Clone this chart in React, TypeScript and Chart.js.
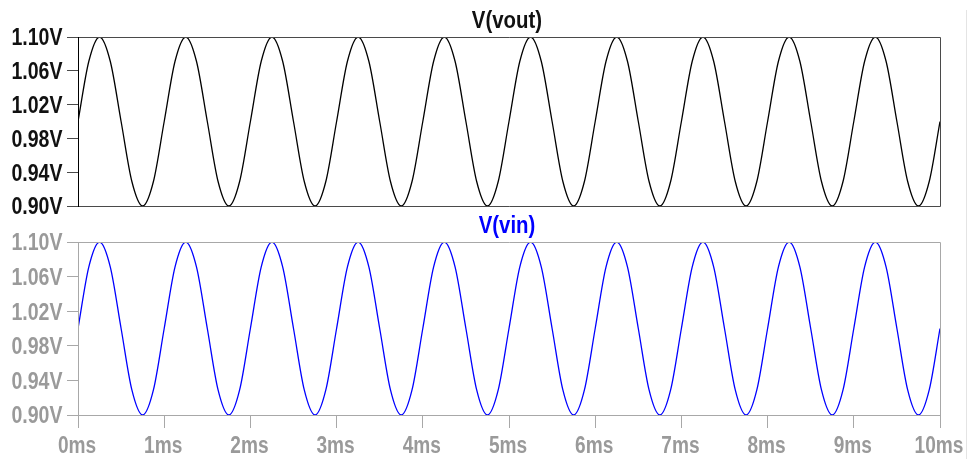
import React, { useEffect, useRef } from 'react';
import { Chart, registerables } from 'chart.js';

Chart.register(...registerables);

// time samples (ms)
const timesMs = [
  0, 0.125, 0.25, 0.375, 0.5, 0.625, 0.75, 0.875,
  1, 1.125, 1.25, 1.375, 1.5, 1.625, 1.75, 1.875,
  2, 2.125, 2.25, 2.375, 2.5, 2.625, 2.75, 2.875,
  3, 3.125, 3.25, 3.375, 3.5, 3.625, 3.75, 3.875,
  4, 4.125, 4.25, 4.375, 4.5, 4.625, 4.75, 4.875,
  5, 5.125, 5.25, 5.375, 5.5, 5.625, 5.75, 5.875,
  6, 6.125, 6.25, 6.375, 6.5, 6.625, 6.75, 6.875,
  7, 7.125, 7.25, 7.375, 7.5, 7.625, 7.75, 7.875,
  8, 8.125, 8.25, 8.375, 8.5, 8.625, 8.75, 8.875,
  9, 9.125, 9.25, 9.375, 9.5, 9.625, 9.75, 9.875,
  10,
];

// V(vout) in volts
const vout = [
  1.0, 1.071, 1.1, 1.071, 1.0, 0.929, 0.9, 0.929,
  1.0, 1.071, 1.1, 1.071, 1.0, 0.929, 0.9, 0.929,
  1.0, 1.071, 1.1, 1.071, 1.0, 0.929, 0.9, 0.929,
  1.0, 1.071, 1.1, 1.071, 1.0, 0.929, 0.9, 0.929,
  1.0, 1.071, 1.1, 1.071, 1.0, 0.929, 0.9, 0.929,
  1.0, 1.071, 1.1, 1.071, 1.0, 0.929, 0.9, 0.929,
  1.0, 1.071, 1.1, 1.071, 1.0, 0.929, 0.9, 0.929,
  1.0, 1.071, 1.1, 1.071, 1.0, 0.929, 0.9, 0.929,
  1.0, 1.071, 1.1, 1.071, 1.0, 0.929, 0.9, 0.929,
  1.0, 1.071, 1.1, 1.071, 1.0, 0.929, 0.9, 0.929,
  1.0,
];

// V(vin) in volts
const vin = [
  1.0, 1.071, 1.1, 1.071, 1.0, 0.929, 0.9, 0.929,
  1.0, 1.071, 1.1, 1.071, 1.0, 0.929, 0.9, 0.929,
  1.0, 1.071, 1.1, 1.071, 1.0, 0.929, 0.9, 0.929,
  1.0, 1.071, 1.1, 1.071, 1.0, 0.929, 0.9, 0.929,
  1.0, 1.071, 1.1, 1.071, 1.0, 0.929, 0.9, 0.929,
  1.0, 1.071, 1.1, 1.071, 1.0, 0.929, 0.9, 0.929,
  1.0, 1.071, 1.1, 1.071, 1.0, 0.929, 0.9, 0.929,
  1.0, 1.071, 1.1, 1.071, 1.0, 0.929, 0.9, 0.929,
  1.0, 1.071, 1.1, 1.071, 1.0, 0.929, 0.9, 0.929,
  1.0, 1.071, 1.1, 1.071, 1.0, 0.929, 0.9, 0.929,
  1.0,
];

const yMin = 0.9;
const yMax = 1.1;
const yStep = 0.04;
const xMin = 0;
const xMax = 10;
const xStep = 1;

const FONT = "'Liberation Sans', Arial, sans-serif";
const SX = 0.85; // horizontal condensing of the bold labels

type PaneCfg = {
  title: string;
  titleColor: string;
  lineColor: string;
  labelColor: string;
  frameColor: string;
  leftColor: string;
  values: number[];
  showX: boolean;
  padTop: number;
  padBottom: number;
};

function drawCondensed(ctx: CanvasRenderingContext2D, text: string, x: number, y: number, align: CanvasTextAlign, sx: number) {
  ctx.save();
  ctx.translate(x, y);
  ctx.scale(sx, 1);
  ctx.textAlign = align;
  ctx.textBaseline = 'alphabetic';
  ctx.fillText(text, 0, 0);
  ctx.restore();
}

function Pane({ cfg, top, height }: { cfg: PaneCfg; top: number; height: number }) {
  const ref = useRef<HTMLCanvasElement | null>(null);
  useEffect(() => {
    if (!ref.current) return;
    const framePlugin = {
      id: 'frame',
      afterDraw(chart: any) {
        const { ctx, chartArea } = chart;
        const { left, right, top: t, bottom } = chartArea;
        ctx.save();
        ctx.lineWidth = 1;
        ctx.strokeStyle = cfg.frameColor;
        ctx.beginPath();
        ctx.moveTo(left, t + 0.5);
        ctx.lineTo(right + 0.5, t + 0.5);
        ctx.lineTo(right + 0.5, bottom + 0.5);
        ctx.lineTo(left, bottom + 0.5);
        ctx.stroke();
        ctx.strokeStyle = cfg.leftColor;
        ctx.beginPath();
        ctx.moveTo(left + 0.5, t);
        ctx.lineTo(left + 0.5, bottom + 1);
        ctx.stroke();

        // title
        ctx.fillStyle = cfg.titleColor;
        ctx.font = `bold 24px ${FONT}`;
        drawCondensed(ctx, cfg.title, (left + right) / 2 - 2, t - 9.5, 'center', SX);

        // y tick labels
        const ys = chart.scales.y;
        ctx.fillStyle = cfg.labelColor;
        ctx.font = `bold 23px ${FONT}`;
        ys.ticks.forEach((tk: any) => {
          const py = ys.getPixelForValue(tk.value);
          drawCondensed(ctx, `${Number(tk.value).toFixed(2)}V`, left - 15.5, py + 8.3, 'right', SX);
        });

        // x tick labels
        if (cfg.showX) {
          const xs = chart.scales.x;
          ctx.fillStyle = cfg.labelColor;
          xs.ticks.forEach((tk: any) => {
            const px = xs.getPixelForValue(tk.value);
            drawCondensed(ctx, `${tk.value}ms`, px - 1, bottom + 38, 'center', 0.83);
          });
        }
        ctx.restore();
      },
    };
    const chart = new Chart(ref.current, {
      type: 'line',
      data: {
        datasets: [
          {
            label: cfg.title,
            data: timesMs.map((t, i) => ({ x: t, y: cfg.values[i] })),
            borderColor: cfg.lineColor,
            borderWidth: 1.3,
            pointRadius: 0,
            cubicInterpolationMode: 'monotone',
            fill: false,
          },
        ],
      },
      options: {
        animation: false,
        responsive: false,
        devicePixelRatio: 1,
        layout: { padding: { left: 8, right: 27, top: cfg.padTop, bottom: cfg.padBottom } },
        plugins: { legend: { display: false }, tooltip: { enabled: false }, title: { display: false } },
        scales: {
          x: {
            type: 'linear',
            min: xMin,
            max: xMax,
            display: cfg.showX,
            afterFit: (s: any) => {
              if (cfg.showX) s.height = 44;
            },
            grid: { drawOnChartArea: false, tickLength: 13, color: '#a8a8a8', lineWidth: 1 },
            border: { display: false },
            ticks: {
              stepSize: xStep,
              display: false,
              autoSkip: false,
            },
          },
          y: {
            type: 'linear',
            min: yMin,
            max: yMax,
            afterFit: (s: any) => {
              s.width = 70;
            },
            grid: { drawOnChartArea: false, tickLength: 11, color: cfg.frameColor, lineWidth: 1 },
            border: { display: false },
            ticks: {
              stepSize: yStep,
              display: false,
              autoSkip: false,
            },
          },
        },
      } as any,
      plugins: [framePlugin],
    });
    return () => chart.destroy();
  }, []);
  return (
    <canvas
      ref={ref}
      width={967}
      height={height}
      style={{ position: 'absolute', left: 0, top, width: 967, height }}
    />
  );
}

const topPane: PaneCfg = {
  title: 'V(vout)',
  titleColor: '#111111',
  lineColor: '#000000',
  labelColor: '#111111',
  frameColor: '#4a4a4a',
  leftColor: '#000000',
  values: vout,
  showX: false,
  padTop: 37,
  padBottom: 24,
};

const bottomPane: PaneCfg = {
  title: 'V(vin)',
  titleColor: '#0000ff',
  lineColor: '#0000ff',
  labelColor: '#9a9a9a',
  frameColor: '#a8a8a8',
  leftColor: '#a8a8a8',
  values: vin,
  showX: true,
  padTop: 42,
  padBottom: 0,
};

export default function App() {
  return (
    <div style={{ position: 'fixed', left: 0, top: 0, width: 967, height: 459, background: '#ffffff', overflow: 'hidden' }}>
      <Pane cfg={topPane} top={0} height={230} />
      <Pane cfg={bottomPane} top={200} height={259} />
      <div style={{ position: 'absolute', left: 966, top: 10, width: 1, height: 449, background: '#e4e4e4' }} />
    </div>
  );
}
